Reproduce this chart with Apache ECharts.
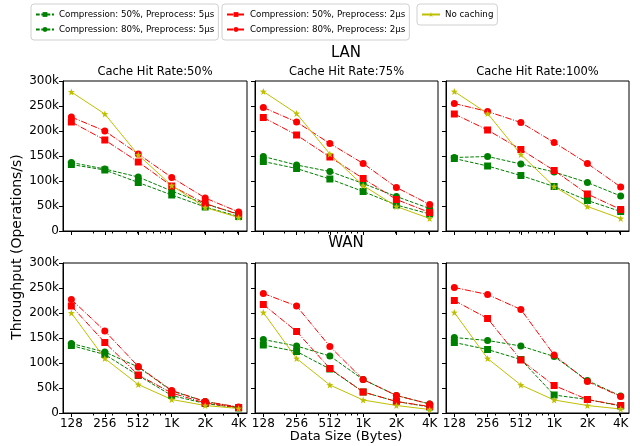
<!DOCTYPE html>
<html>
<head>
<meta charset="utf-8">
<script src="https://cdn.jsdelivr.net/npm/echarts@6/dist/echarts.min.js"></script>
<style>
html, body { margin: 0; padding: 0; background: #fff; }
#chart { width: 640px; height: 446px; }
</style>
</head>
<body>
<div id="chart"></div>
<script>
// data sizes (bytes) and labels
var sizes = [128, 256, 512, 1024, 2048, 4096];
var sizeLabels = ['128', '256', '512', '1K', '2K', '4K'];
var minorSizes = [200, 300, 400, 500, 600, 700, 800, 900, 2000, 3000, 4000];
var yTicks = [0, 50, 100, 150, 200, 250, 300];

var seriesNames = [
    'Compression: 50%, Preprocess: 5µs',
    'Compression: 80%, Preprocess: 5µs',
    'Compression: 50%, Preprocess: 2µs',
    'Compression: 80%, Preprocess: 2µs',
    'No caching'
];
var panelTitles = ['Cache Hit Rate:50%', 'Cache Hit Rate:75%', 'Cache Hit Rate:100%'];

// throughput, thousands of operations/s
// LAN, hit rate 50%
var lan50C50P5 = [133, 122, 97, 72, 48, 29];
var lan50C80P5 = [137, 124, 108, 80, 54, 34];
var lan50C50P2 = [218, 182, 138, 90, 55, 33];
var lan50C80P2 = [228, 200, 154, 107, 66, 38];
var lan50NoCache = [278, 234, 152, 91, 47, 27];
// LAN, hit rate 75%
var lan75C50P5 = [139, 125, 104, 79, 52, 34];
var lan75C80P5 = [149, 132, 119, 95, 69, 45];
var lan75C50P2 = [227, 192, 148, 105, 63, 37];
var lan75C80P2 = [247, 218, 175, 135, 87, 53];
var lan75NoCache = [279, 235, 154, 91, 49, 25];
// LAN, hit rate 100%
var lan100C50P5 = [145, 130, 111, 89, 61, 39];
var lan100C80P5 = [147, 149, 134, 118, 97, 70];
var lan100C50P2 = [234, 202, 163, 121, 74, 43];
var lan100C80P2 = [255, 239, 217, 177, 135, 88];
var lan100NoCache = [279, 235, 153, 89, 49, 25];
// WAN, hit rate 50%
var wan50C50P5 = [135, 117, 75, 35, 19, 10];
var wan50C80P5 = [139, 122, 92, 44, 23, 11];
var wan50C50P2 = [214, 141, 76, 40, 20, 11];
var wan50C80P2 = [227, 164, 93, 45, 23, 12];
var wan50NoCache = [200, 109, 57, 27, 15, 9];
// WAN, hit rate 75%
var wan75C50P5 = [136, 123, 88, 42, 23, 12];
var wan75C80P5 = [147, 134, 114, 67, 35, 18];
var wan75C50P2 = [217, 163, 89, 42, 23, 13];
var wan75C80P2 = [239, 214, 133, 67, 35, 18];
var wan75NoCache = [201, 109, 56, 26, 15, 7];
// WAN, hit rate 100%
var wan100C50P5 = [141, 127, 107, 36, 27, 14];
var wan100C80P5 = [151, 145, 134, 113, 65, 34];
var wan100C50P2 = [225, 189, 106, 55, 27, 15];
var wan100C80P2 = [251, 237, 207, 116, 63, 33];
var wan100NoCache = [201, 109, 56, 26, 15, 8];

var panels = [
    [lan50C50P5, lan50C80P5, lan50C50P2, lan50C80P2, lan50NoCache],
    [lan75C50P5, lan75C80P5, lan75C50P2, lan75C80P2, lan75NoCache],
    [lan100C50P5, lan100C80P5, lan100C50P2, lan100C80P2, lan100NoCache],
    [wan50C50P5, wan50C80P5, wan50C50P2, wan50C80P2, wan50NoCache],
    [wan75C50P5, wan75C80P5, wan75C50P2, wan75C80P2, wan75NoCache],
    [wan100C50P5, wan100C80P5, wan100C50P2, wan100C80P2, wan100NoCache]
];

var FONT = 'DejaVu Sans';
var star = 'path://M0,-10L2.35,-3.24L9.51,-3.09L3.8,1.24L5.88,8.09L0,4L-5.88,8.09L-3.8,1.24L-9.51,-3.09L-2.35,-3.24Z';
var dashed = [3.7, 1.6];
var dashDot = [6.4, 1.6, 1, 1.6];
var seriesStyles = [
    { color: '#008000', symbol: 'rect', size: 7, dash: dashed },
    { color: '#008000', symbol: 'circle', size: 7, dash: dashed },
    { color: '#ff0000', symbol: 'rect', size: 7, dash: dashDot },
    { color: '#ff0000', symbol: 'circle', size: 7, dash: dashDot },
    { color: '#bfbf00', symbol: star, size: 7, dash: 'solid' }
];

var log2 = function (v) { return Math.log(v) / Math.LN2; };
var majorX = sizes.map(log2);
var minorX = minorSizes.map(log2);
var xMin = 6.75, xMax = 12.25;

var gridLefts = [63, 255, 446];
var gridWidths = [184, 183, 183];
var gridTops = [81, 263];
var gridHeight = 150;

var grids = [], xAxes = [], yAxes = [], series = [], graphics = [];

for (var r = 0; r < 2; r++) {
    for (var c = 0; c < 3; c++) {
        var idx = r * 3 + c;
        grids.push({
            left: gridLefts[c], top: gridTops[r], width: gridWidths[c], height: gridHeight,
            show: true, borderColor: '#000', borderWidth: 1, backgroundColor: '#fff'
        });
        // major ticks + labels
        xAxes.push({
            gridIndex: idx, type: 'value', min: xMin, max: xMax, position: 'bottom',
            splitLine: { show: false },
            axisLine: { show: true, lineStyle: { color: '#000', width: 1 } },
            axisTick: { show: true, length: 4, customValues: majorX, lineStyle: { color: '#000', width: 1 } },
            axisLabel: {
                show: r === 1, customValues: majorX, margin: 5,
                color: '#000', fontFamily: FONT, fontSize: 12,
                formatter: function (v) {
                    var i = majorX.findIndex(function (m) { return Math.abs(m - v) < 1e-6; });
                    return i >= 0 ? sizeLabels[i] : '';
                }
            }
        });
        // minor ticks
        xAxes.push({
            gridIndex: idx, type: 'value', min: xMin, max: xMax, position: 'bottom',
            splitLine: { show: false },
            axisLine: { show: false },
            axisLabel: { show: false },
            axisTick: { show: true, length: 2.5, customValues: minorX, lineStyle: { color: '#000', width: 1 } }
        });
        yAxes.push({
            gridIndex: idx, type: 'value', min: 0, max: 300, interval: 50,
            splitLine: { show: false },
            axisLine: { show: true, lineStyle: { color: '#000', width: 1 } },
            axisTick: { show: true, length: 4, lineStyle: { color: '#000', width: 1 } },
            axisLabel: {
                show: c === 0, margin: 4, color: '#000', fontFamily: FONT, fontSize: 12,
                formatter: function (v) { return v === 0 ? '0' : v + 'k'; }
            }
        });
        for (var s = 0; s < 5; s++) {
            var st = seriesStyles[s];
            series.push({
                name: seriesNames[s], type: 'line',
                xAxisIndex: idx * 2, yAxisIndex: idx,
                data: panels[idx][s].map(function (v, i) { return [majorX[i], v]; }),
                symbol: st.symbol, symbolSize: st.size,
                lineStyle: { color: st.color, width: 1, type: st.dash },
                itemStyle: { color: st.color, borderWidth: 0 },
                animation: false, silent: true
            });
        }
        if (r === 0) {
            graphics.push({
                type: 'text', x: gridLefts[c] + gridWidths[c] / 2, y: 72,
                style: { text: panelTitles[c], font: '11.5px "' + FONT + '"', fill: '#000',
                    align: 'center', verticalAlign: 'middle', textAlign: 'center', textVerticalAlign: 'middle' }
            });
        }
    }
}

var centerX = (gridLefts[0] + gridLefts[2] + gridWidths[2]) / 2;
function label(text, x, y, size, rot) {
    return {
        type: 'text', x: x, y: y, rotation: rot || 0,
        style: { text: text, font: size + 'px "' + FONT + '"', fill: '#000',
            align: 'center', verticalAlign: 'middle', textAlign: 'center', textVerticalAlign: 'middle' }
    };
}
graphics.push(label('LAN', centerX, 53, 15));
graphics.push(label('WAN', centerX, 243, 15));
graphics.push(label('Data Size (Bytes)', centerX, 437, 13));
graphics.push(label('Throughput (Operations/s)', 17, 247, 14, Math.PI / 2));

var legendBase = {
    orient: 'vertical', top: 4, padding: [6, 4, 6, 4],
    itemWidth: 18, itemHeight: 6, itemGap: 6, selectedMode: false,
    borderColor: '#d0d0d0', borderWidth: 1, borderRadius: 3, backgroundColor: '#fff',
    textStyle: { fontFamily: FONT, fontSize: 8.7, color: '#000' }
};
var legends = [
    echarts.util.extend({ left: 31, data: seriesNames.slice(0, 2) }, legendBase),
    echarts.util.extend({ left: 222, data: seriesNames.slice(2, 4) }, legendBase),
    echarts.util.extend({ left: 417, data: seriesNames.slice(4, 5) }, legendBase)
];

var chart = echarts.init(document.getElementById('chart'));
chart.setOption({
    backgroundColor: '#fff',
    animation: false,
    grid: grids,
    xAxis: xAxes,
    yAxis: yAxes,
    legend: legends,
    graphic: graphics,
    series: series
});
</script>
</body>
</html>
